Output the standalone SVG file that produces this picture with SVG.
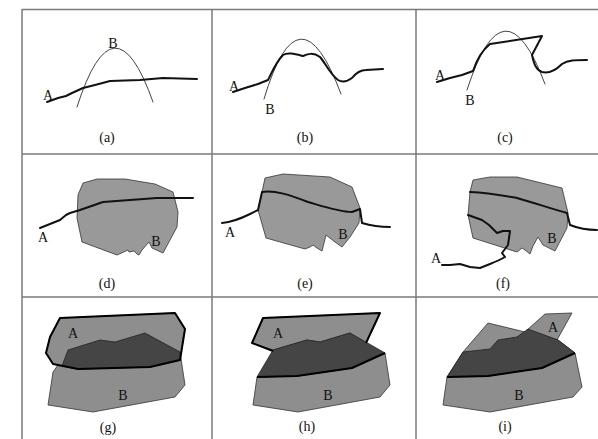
<svg xmlns="http://www.w3.org/2000/svg" width="598" height="439" viewBox="0 0 598 439">
<style>
.grid{stroke:#7a7a7a;stroke-width:1.5;fill:none}
.a{fill:none;stroke:#111;stroke-width:2;stroke-linejoin:round;stroke-linecap:round}
.b{fill:none;stroke:#444;stroke-width:1;stroke-linecap:round}
.poly{fill:#999;stroke:#333;stroke-width:0.8;stroke-linejoin:round}
.g{fill:#8e8e8e;stroke:#333;stroke-width:0.8;stroke-linejoin:round}
.dk{fill:#454545;stroke:#222;stroke-width:0.8;stroke-linejoin:round}
.ol{fill:none;stroke:#000;stroke-width:2;stroke-linejoin:round}
text{font-family:"Liberation Serif","Times New Roman",serif;font-size:14px;fill:#111;text-anchor:middle}
</style>
<rect width="598" height="439" fill="#fff"/>
<g id="grid">
<line class="grid" x1="22" y1="9.5" x2="598" y2="9.5"/>
<line class="grid" x1="22" y1="154" x2="598" y2="154"/>
<line class="grid" x1="22" y1="297" x2="598" y2="297"/>
<line class="grid" x1="22" y1="9" x2="22" y2="439"/>
<line class="grid" x1="212" y1="9" x2="212" y2="439"/>
<line class="grid" x1="416" y1="9" x2="416" y2="439"/>
</g>
<g id="panel-a">
<path class="b" d="M77,107 Q114,-8.5 153,102"/>
<path class="a" d="M47,102 L58,98 L66,96 L72,93 L83,88 L95,85 L110,81 L140,80 L163,78 L197,79"/>
<text x="48" y="100">A</text>
<text x="113" y="48">B</text>
<text x="107" y="142">(a)</text>
</g>
<g id="panel-b">
<path class="b" d="M264,99 Q299,-18.5 341,94"/>
<path class="a" d="M233,92 L245,88 L258,84 L268,80 C272,72 276,62 283,55 C288,52 295,54 303,56 C308,54 313,52 320,57 C326,64 330,74 338,80 C343,83 348,81 352,78 C356,73 360,70 366,70 L383,69"/>
<text x="234" y="91">A</text>
<text x="270" y="114">B</text>
<text x="305" y="142">(b)</text>
</g>
<g id="panel-c">
<path class="b" d="M467,90 Q504,-25 545,84"/>
<path class="a" d="M437,82 L450,78 L462,75 L473,71 C476,62 480,52 490,44 L542,36 L532,55 C534,64 536,70 542,72 C550,74 556,70 562,64 C568,60 575,60 587,60"/>
<text x="440" y="80">A</text>
<text x="470" y="105">B</text>
<text x="505" y="142">(c)</text>
</g>
<g id="panel-d">
<polygon class="poly" points="83,183 97,179 125,179 155,184 173,192 178,212 177,227 163,253 152,248 149,242 142,250 139,255 137,254 134,251 129,252 128,250 117,255 82,242 77,218 78,195"/>
<path class="a" d="M40,228 L50,224 L60,220 L66,215 L70,213 L80,210 L103,202 L130,200 L157,198 L193,198"/>
<text x="43" y="242">A</text>
<text x="156" y="246">B</text>
<text x="107" y="288">(d)</text>
</g>
<g id="panel-e">
<polygon class="poly" points="265,178 283,174 330,177 352,187 360,208 359,223 350,237 342,247 335,242 326,235 322,251 317,248 313,245 310,247 305,249 266,238 258,210 262,192"/>
<path class="a" d="M222,223 C232,222 242,218 250,214 L258,210 L262,192 C275,190 290,195 308,202 C325,207 340,212 352,212 L360,209 L362,223 C372,226 380,227 390,227"/>
<text x="230" y="237">A</text>
<text x="343" y="239">B</text>
<text x="305" y="288">(e)</text>
</g>
<g id="panel-f">
<polygon class="poly" points="473,180 490,177 517,177 562,188 568,213 567,228 555,251 543,245 538,237 533,246 530,254 525,250 522,248 517,252 473,238 468,215 470,192"/>
<path class="a" d="M470,192 C490,193 505,196 517,198 C535,203 555,210 567,213 L570,225 C580,229 590,230 597,230"/>
<path class="a" d="M468,215 L482,220 L489,225 L492,228 L497,233 L503,231 L510,231 L508,245 L502,253 L505,257 C500,260 495,262 490,264 L480,268 L470,267 L460,264 L450,265 L442,265"/>
<text x="436" y="263">A</text>
<text x="552" y="243">B</text>
<text x="503" y="288">(f)</text>
</g>
<g id="panel-g">
<polygon class="g" points="68,350 100,340 115,342 145,333 180,352 185,385 175,397 93,412 48,405 53,372 58,365"/>
<polygon class="g" points="60,318 175,313 185,329 180,360 150,367 78,369 53,364 46,353 50,337"/>
<polygon class="dk" points="68,350 100,340 115,342 145,333 180,352 180,360 150,367 78,369 62,366"/>
<polygon class="ol" points="60,318 175,313 185,329 180,360 150,367 78,369 53,364 46,353 50,337"/>
<text x="73" y="338">A</text>
<text x="123" y="400">B</text>
<text x="108" y="432">(g)</text>
</g>
<g id="panel-h">
<polygon class="g" points="263,318 380,313 366,343 350,333 320,342 307,340 273,350 252,343"/>
<polygon class="g" points="257,377 297,376 352,368 385,353 390,385 380,397 298,412 253,405"/>
<polygon class="dk" points="257,377 273,350 307,340 320,342 350,333 385,353 352,368 297,376"/>
<path class="ol" d="M273,351 L252,343 L263,318 L380,313 L366,343"/>
<path class="ol" d="M257,377 L297,376 L352,368 L385,353"/>
<text x="278" y="338">A</text>
<text x="328" y="400">B</text>
<text x="307" y="431">(h)</text>
</g>
<g id="panel-i">
<polygon class="g" points="488,323 525,332 558,340 575,353 582,387 573,397 490,412 443,405 447,377 463,352"/>
<polygon class="g" points="527,330 545,314 572,313 557,340"/>
<polygon class="dk" points="447,377 463,352 490,349 498,340 517,337 528,329 558,340 575,353 542,368 488,376"/>
<path class="ol" d="M447,377 L488,376 L542,368 L575,353"/>
<text x="553" y="332">A</text>
<text x="519" y="400">B</text>
<text x="505" y="431">(i)</text>
</g>
</svg>
